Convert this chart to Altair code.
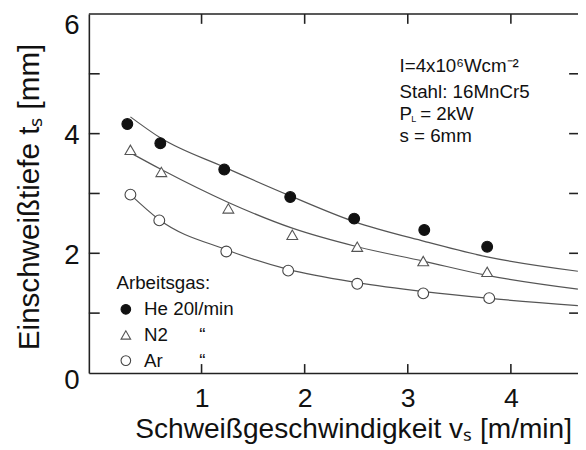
import altair as alt
import pandas as pd

# ---------------- data ----------------
gas_labels = ["He 20l/min", "N2" + "\u00a0" * 6 + "\u201c", "Ar" + "\u00a0" * 7 + "\u201c"]

he_v = [0.28, 0.60, 1.22, 1.86, 2.48, 3.16, 3.77]
he_t = [4.16, 3.84, 3.40, 2.94, 2.58, 2.39, 2.11]
n2_v = [0.31, 0.61, 1.26, 1.88, 2.51, 3.15, 3.77]
n2_t = [3.73, 3.36, 2.75, 2.31, 2.11, 1.87, 1.69]
ar_v = [0.31, 0.59, 1.24, 1.84, 2.51, 3.15, 3.79]
ar_t = [2.98, 2.55, 2.03, 1.71, 1.49, 1.33, 1.25]

# fitted curves
he_fit_v = [0.31, 0.60, 1.22, 1.86, 2.48, 3.16, 3.77, 4.65]
he_fit_t = [4.28, 3.93, 3.44, 2.96, 2.53, 2.20, 1.94, 1.70]
n2_fit_v = [0.32, 0.61, 1.26, 1.88, 2.51, 3.15, 3.77, 4.65]
n2_fit_t = [3.67, 3.40, 2.85, 2.42, 2.11, 1.87, 1.63, 1.40]
ar_fit_v = [0.31, 0.59, 1.24, 1.84, 2.51, 3.16, 3.77, 4.65]
ar_fit_t = [2.98, 2.56, 2.06, 1.73, 1.51, 1.36, 1.25, 1.125]

x_tick_values = [1, 2, 3, 4]
y_label_values = [0, 2, 4, 6]
y_tick_values = [1, 2, 3, 4, 5]

x_title = "Schweißgeschwindigkeit v\u209b [m/min]"
y_title = "Einschweißtiefe t\u209b [mm]"
legend_title = "\u00a0" * 5 + "Arbeitsgas:"

# ---------------- tables ----------------
pts = pd.DataFrame({
    "gas": [gas_labels[0]] * len(he_v) + [gas_labels[1]] * len(n2_v) + [gas_labels[2]] * len(ar_v),
    "v": he_v + n2_v + ar_v,
    "t": he_t + n2_t + ar_t,
})
fits = pd.DataFrame({
    "gas": [gas_labels[0]] * len(he_fit_v) + [gas_labels[1]] * len(n2_fit_v) + [gas_labels[2]] * len(ar_fit_v),
    "v": he_fit_v + n2_fit_v + ar_fit_v,
    "t": he_fit_t + n2_fit_t + ar_fit_t,
})
xt = pd.DataFrame({"v": x_tick_values})
yt = pd.DataFrame({"t": y_tick_values})
one = pd.DataFrame({"k": [0]})

W, H = 496, 364
FONT = "Liberation Sans"
INK = "#222222"

x_scale = alt.Scale(domain=[-0.093, 4.651], nice=False, zero=False)
y_scale = alt.Scale(domain=[0, 6], nice=False, zero=False)

x_axis = alt.Axis(
    values=x_tick_values, ticks=False, tickSize=0, grid=False,
    domain=True, domainColor=INK, domainWidth=1.6,
    labelFontSize=27, labelFont=FONT, labelColor="#111111", labelPadding=13,
    title=x_title, titleFont=FONT, titleFontSize=28.5, titleFontWeight="normal",
    titleColor="#111111", titleX=268, titleY=65, titleAlign="center",
    titleBaseline="alphabetic", titleAnchor="middle",
)
y_axis = alt.Axis(
    values=y_label_values, ticks=False, tickSize=0, grid=False,
    domain=True, domainColor=INK, domainWidth=1.6,
    labelFontSize=28, labelFont=FONT, labelColor="#111111", labelPadding=10,
    labelOffset={"condition": [{"test": "datum.value == 6", "value": 12},
                               {"test": "datum.value == 0", "value": 8}],
                 "value": 2},
    title=y_title, titleFont=FONT, titleFontSize=30, titleFontWeight="normal",
    titleColor="#111111", titleAngle=270, titleX=-51, titleY=185,
    titleAlign="center", titleBaseline="alphabetic",
)

X = alt.X("v:Q", scale=x_scale, axis=x_axis)
Y = alt.Y("t:Q", scale=y_scale, axis=y_axis)

legend = alt.Legend(title=legend_title)
gas_dom = gas_labels

lines = alt.Chart(fits).mark_line(
    color="#555555", strokeWidth=1.2, interpolate="monotone", clip=True
).encode(x=X, y=Y, detail="gas:N")

points = alt.Chart(pts).mark_point(opacity=1, strokeWidth=1.1, size=120).encode(
    x=X, y=Y,
    shape=alt.Shape("gas:N", scale=alt.Scale(domain=gas_dom, range=["circle", "triangle-up", "circle"]), legend=legend),
    fill=alt.Fill("gas:N", scale=alt.Scale(domain=gas_dom, range=["#111111", "white", "white"]), legend=legend),
    stroke=alt.Stroke("gas:N", scale=alt.Scale(domain=gas_dom, range=["#111111", "#555555", "#444444"]), legend=legend),
)

rule_style = dict(color=INK, strokeWidth=1.6)
left_ticks = alt.Chart(yt).mark_rule(**rule_style).encode(y=Y, x=alt.value(0), x2=alt.value(11))
right_ticks = alt.Chart(yt).mark_rule(**rule_style).encode(y=Y, x=alt.value(W - 9), x2=alt.value(W))
bottom_ticks = alt.Chart(xt).mark_rule(**rule_style).encode(x=X, y=alt.value(H), y2=alt.value(H - 9))
top_ticks = alt.Chart(xt).mark_rule(**rule_style).encode(x=X, y=alt.value(0), y2=alt.value(10))
top_frame = alt.Chart(one).mark_rule(**rule_style).encode(x=alt.value(0), x2=alt.value(W), y=alt.value(0))

txt = dict(font=FONT, fontSize=19, color="#111111", align="left", baseline="alphabetic")
ann1 = alt.Chart(one).mark_text(text="I=4x10\u2076Wcm\u207b\u00b2", **txt).encode(x=alt.value(315), y=alt.value(59))
ann2 = alt.Chart(one).mark_text(text="Stahl: 16MnCr5", **txt).encode(x=alt.value(315), y=alt.value(85))
ann3a = alt.Chart(one).mark_text(text="P", **txt).encode(x=alt.value(315), y=alt.value(107))
ann3b = alt.Chart(one).mark_text(text="L", font=FONT, fontSize=9, color="#111111", align="left",
                                 baseline="alphabetic").encode(x=alt.value(327), y=alt.value(110))
ann3c = alt.Chart(one).mark_text(text="= 2kW", **txt).encode(x=alt.value(336), y=alt.value(107))
ann4 = alt.Chart(one).mark_text(text="s = 6mm", **txt).encode(x=alt.value(315), y=alt.value(130))

chart = alt.layer(
    lines, points, left_ticks, right_ticks, bottom_ticks, top_ticks, top_frame,
    ann1, ann2, ann3a, ann3b, ann3c, ann4,
).properties(
    width=W, height=H,
    padding={"left": 82, "top": 3, "right": 0, "bottom": 70},
    autosize=alt.AutoSizeParams(type="none"),
    background="white",
).configure_view(
    stroke="transparent"
).configure_legend(
    orient="none", legendX=28, legendY=264, padding=0,
    titleFont=FONT, titleFontSize=19, titleFontWeight="normal", titleColor="#111111",
    titlePadding=7,
    labelFont=FONT, labelFontSize=19, labelColor="#111111", labelOffset=9,
    symbolSize=95, symbolStrokeWidth=1.1, rowPadding=6, symbolOpacity=1,
)

chart.save("out.html", embed_options={"renderer": "svg", "actions": False})
